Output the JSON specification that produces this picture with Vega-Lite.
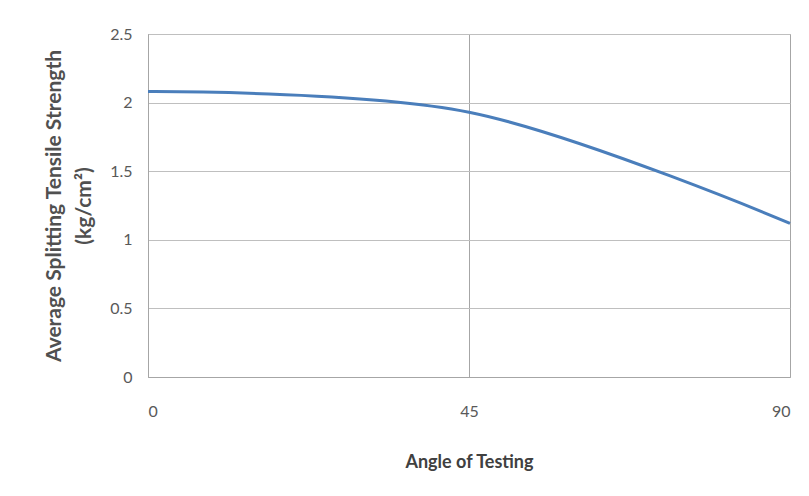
{
  "$schema": "https://vega.github.io/schema/vega-lite/v6.json",
  "width": 642,
  "height": 343,
  "autosize": {"type": "none"},
  "padding": {"left": 148, "top": 34, "right": 19, "bottom": 119},
  "background": "white",
  "config": {
    "view": {"stroke": "#a6a6a6", "strokeWidth": 1},
    "font": "Lato"
  },
  "data": {
    "values": [
      {"angle": 0, "strength": 2.08},
      {"angle": 45, "strength": 1.93},
      {"angle": 90, "strength": 1.12}
    ]
  },
  "mark": {"type": "line", "interpolate": "catmull-rom", "color": "#4a7ebb", "strokeWidth": 3},
  "encoding": {
    "x": {
      "field": "angle",
      "type": "quantitative",
      "scale": {"domain": [0, 90], "nice": false},
      "axis": {
        "values": [0, 45, 90],
        "title": "Angle of Testing",
        "titleFont": "Lato",
        "titleFontSize": 18,
        "titleFontWeight": "bold",
        "titleColor": "#404040",
        "titlePadding": 34,
        "labelFontSize": 16,
        "labelColor": "#595959",
        "labelPadding": 26,
        "ticks": false,
        "domainColor": "#a6a6a6",
        "gridColor": "#a6a6a6",
        "grid": true
      }
    },
    "y": {
      "field": "strength",
      "type": "quantitative",
      "scale": {"domain": [0, 2.5], "nice": false},
      "axis": {
        "values": [0, 0.5, 1, 1.5, 2, 2.5],
        "format": "~g",
        "title": ["Average Splitting Tensile Strength", "(kg/cm²)"],
        "titleFont": "Lato",
        "titleFontSize": 21,
        "titleLineHeight": 30,
        "titleFontWeight": "bold",
        "titleColor": "#505050",
        "titlePadding": 15,
        "labelFontSize": 16,
        "labelColor": "#595959",
        "labelPadding": 16,
        "ticks": false,
        "domainColor": "#a6a6a6",
        "gridColor": "#bfbfbf",
        "grid": true
      }
    }
  }
}
